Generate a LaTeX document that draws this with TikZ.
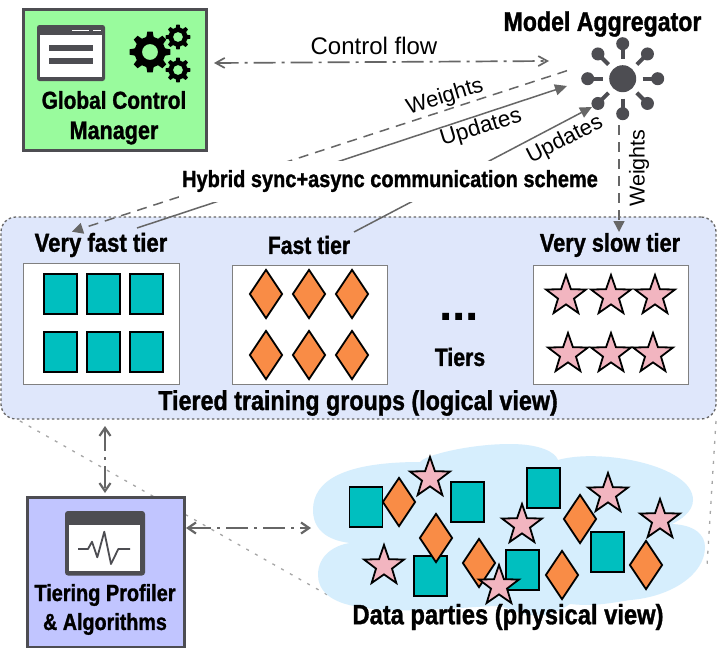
\documentclass[tikz,border=0pt]{standalone}
\usepackage{fontspec}
\setmainfont{Liberation Sans}
\newfontfamily\condfam{Liberation Sans}[FakeStretch=0.85,BoldFeatures={FakeStretch=0.85,FakeBold=1.2}]
\newcommand{\condb}{\condfam\bfseries}
\newcommand{\plainb}{\rmfamily\bfseries}
\usetikzlibrary{arrows.meta,shapes.geometric}
\definecolor{icon}{HTML}{4D4D52}
\definecolor{conn}{HTML}{666666}
\definecolor{greenfill}{HTML}{99FB9D}
\definecolor{bluefill}{HTML}{C1C5FF}
\definecolor{tierfill}{HTML}{DFE7FB}
\definecolor{cloudfill}{HTML}{D6EEFD}
\definecolor{teal}{HTML}{00BFBF}
\definecolor{orangefill}{HTML}{F98C46}
\definecolor{pinkfill}{HTML}{F2B5C0}
\tikzset{
  mgrbox/.style={draw=icon,line width=3pt,inner sep=0pt},
  tierbox/.style={draw=black!50,fill=white,line width=1pt,inner sep=0pt},
  sq/.style={rectangle,draw=black,fill=teal,line width=1.8pt,minimum width=33pt,minimum height=40pt,inner sep=0pt},
  dm/.style={diamond,draw=black,fill=orangefill,line width=1.8pt,minimum width=33pt,minimum height=49pt,inner sep=0pt,aspect=0.67},
  st/.style={star,star points=5,star point ratio=2.5,draw=black,fill=pinkfill,line width=1.8pt,minimum size=42pt,inner sep=0pt},
  lab/.style={font=\fontsize{#1}{26}\selectfont,inner sep=0pt},
  bt/.style={font=\condb\fontsize{#1}{30}\selectfont,inner sep=0pt},
  flow/.style={draw=conn,line width=1.7pt,dash pattern=on 22pt off 6pt on 3pt off 6pt,{Straight Barb[length=9pt,width=10pt]}-{Straight Barb[length=9pt,width=10pt]}},
  flowb/.style={draw=conn,line width=2.2pt,dash pattern=on 22pt off 6pt on 3pt off 6pt,{Straight Barb[length=8pt,width=11pt]}-{Straight Barb[length=8pt,width=11pt]}},
  dashy/.style={draw=conn,line width=1.5pt,dash pattern=on 10pt off 7pt,-{Triangle[length=11pt,width=11pt]}},
  solidy/.style={draw=conn,line width=1.5pt,-{Triangle[length=12pt,width=11pt]}},
  ghost/.style={draw=black!35,line width=1.3pt,dash pattern=on 3pt off 7pt},
}
\newcommand{\gearshape}[6]{% x y Rout Rin hole teeth
  \pgfmathsetmacro{\gs}{360/#6}
  \fill[black,even odd rule,shift={(#1,#2)}]
    ({-0.3*\gs}:#4)
    \foreach \k in {1,...,#6}{
      -- ({(\k-1)*\gs-0.3*\gs}:#4) -- ({(\k-1)*\gs-0.17*\gs}:#3)
      -- ({(\k-1)*\gs+0.17*\gs}:#3) -- ({(\k-1)*\gs+0.3*\gs}:#4)
    } -- cycle
    (0,0) circle (#5);
}
\begin{document}
\begin{tikzpicture}[x=1pt,y=-1pt]
\useasboundingbox (0,0) rectangle (723,648);
\fill[white] (0,0) rectangle (723,648);
% ghost projection lines
\coordinate (gLA) at (20,421); \coordinate (gLB) at (333,598);
\coordinate (gRA) at (716,421); \coordinate (gRB) at (707,566);
\draw[ghost] (gLA) -- (gLB);
\draw[ghost] (gRA) -- (gRB);
% cloud
\fill[cloudfill] (313,510)
  .. controls (313,480) and (345,462) .. (420,462)
  .. controls (425,455) and (470,444) .. (510,444)
  .. controls (540,444) and (555,452) .. (558,460)
  .. controls (600,448) and (693,465) .. (693,500)
  .. controls (693,512) and (680,520) .. (672,524)
  .. controls (695,525) and (705,535) .. (705,547)
  .. controls (705,575) and (670,597) .. (630,600)
  .. controls (600,605) and (590,606) .. (570,604)
  .. controls (540,625) and (520,612) .. (500,606)
  .. controls (470,606) and (400,615) .. (360,607)
  .. controls (330,603) and (318,590) .. (318,575)
  .. controls (318,555) and (335,545) .. (350,543)
  .. controls (325,540) and (313,528) .. (313,510) -- cycle;
% tier panel
\node[draw=black!60,fill=tierfill,line width=1.3pt,dash pattern=on 2.5pt off 2.5pt,rounded corners=15pt,minimum width=715pt,minimum height=202pt,inner sep=0pt] (panel) at (358.5,318) {};
\node[tierbox,minimum width=156pt,minimum height=121pt] (vfbox) at (101,323.5) {};
\node[tierbox,minimum width=155pt,minimum height=119pt] (fbox) at (309.5,324.5) {};
\node[tierbox,minimum width=155pt,minimum height=119pt] (vsbox) at (610.5,324.5) {};
\foreach \c/\x in {a/60.5,b/103.5,c/146.5}{
  \node[sq] (vf\c1) at (\x,294) {};
  \node[sq] (vf\c2) at (\x,352) {};
}
\foreach \c/\x in {a/266,b/309,c/352}{
  \node[dm] (f\c1) at (\x,294) {};
  \node[dm] (f\c2) at (\x,355) {};
}
\foreach \c/\x/\xx in {a/566/568,b/611/611,c/655/653}{
  \node[st] (vs\c1) at (\x,296) {};
  \node[st] (vs\c2) at (\xx,354) {};
}
\node[bt=26] (vft) at (101,245) {Very fast tier};
\node[bt=24.9] (ft) at (309,245) {Fast tier};
\node[bt=25.6] (vst) at (610,245) {Very slow tier};
\node[bt=27.4] (tgl) at (358,403) {Tiered training groups (logical view)};
\node[font=\plainb\fontsize{48}{48}\selectfont,inner sep=0pt,anchor=base] (dots) at (459,320) {...};
\node[bt=25] (tiers) at (460,357) {Tiers};
% global control manager
\node[mgrbox,fill=greenfill,minimum width=183pt,minimum height=141pt] (gcm) at (114.5,79.5) {};
\fill[icon,rounded corners=2.5pt] (37,25) rectangle (105,81);
\fill[white] (40,35) rectangle (102,77);
\fill[icon] (49,45) rectangle (93,51);
\fill[icon] (49,58) rectangle (93,63.5);
\fill[white] (72,29.5) rectangle (89,31);
\fill[white] (93,29.5) rectangle (101,31);
\gearshape{150}{52}{20.5}{15.5}{8}{8}
\gearshape{178}{37}{12.5}{9.5}{5}{8}
\gearshape{178}{70}{12.5}{9.5}{5}{8}
\node[bt=24.5] (gcmA) at (114,100) {Global Control};
\node[bt=25.4] (gcmB) at (114,133) {Manager};
% aggregator
\node[bt=27.2] (agg) at (602.5,24) {Model Aggregator};
\node[circle,fill=icon,minimum size=27pt,inner sep=0pt] (hub) at (622.7,78.7) {};
\foreach \a in {0,45,...,315}{
  \draw[icon,line width=4pt] (hub.center) ++(\a:20) -- ++(\a:15);
  \fill[icon] (hub.center) ++(\a:35) circle (6.5);
}
% profiler
\node[mgrbox,fill=bluefill,minimum width=157pt,minimum height=150pt] (prof) at (105.5,572) {};
\fill[icon,rounded corners=3pt] (65,511) rectangle (145,575.5);
\fill[white] (69,525) rectangle (140,571);
\draw[icon,line width=1.8pt,line join=round] (78,549) -- (88,549) -- (92,541.7) -- (97.3,557.3) -- (104.3,531.7) -- (111,564) -- (118.3,549) -- (130,549);
\node[bt=23.4] (profA) at (105,595) {Tiering Profiler};
\node[bt=23.2] (profB) at (105,624) {\& Algorithms};
% data parties
\node[sq] (p1) at (366,507) {};
\node[sq] (p2) at (467.5,502) {};
\node[sq] (p3) at (543.5,488) {};
\node[sq] (p4) at (607.5,552) {};
\node[sq] (p5) at (522.5,570) {};
\node[sq] (p6) at (430.5,576) {};
\node[dm] (d1) at (399,502) {};
\node[dm] (d2) at (436,538) {};
\node[dm] (d3) at (479,563) {};
\node[dm] (d4) at (580,519) {};
\node[dm] (d5) at (562,575) {};
\node[dm] (d6) at (646,565) {};
\node[st] (s1) at (430,478) {};
\node[st] (s2) at (522,525) {};
\node[st] (s3) at (608,494) {};
\node[st] (s4) at (660,520) {};
\node[st] (s5) at (384,566) {};
\node[st] (s6) at (499,586) {};
\node[bt=27.9] (dpv) at (508,617) {Data parties (physical view)};
% connectors
\coordinate (ctlA) at (214,63); \coordinate (ctlB) at (549,61);
\draw[flow] (ctlA) -- (ctlB);
\node[lab=24] (ctl) at (374,46) {Control flow};
\coordinate (wA) at (567,70.7); \coordinate (wB) at (72,231.7);
\draw[dashy] (wA) -- (wB);
\coordinate (uA) at (137,228); \coordinate (uB) at (567,86);
\draw[solidy] (uA) -- (uB);
\coordinate (vA) at (354,232); \coordinate (vB) at (592,107);
\draw[solidy] (vA) -- (vB);
\coordinate (xA) at (619,125); \coordinate (xB) at (619,232);
\draw[dashy] (xA) -- (xB);
\node[lab=22,rotate=17] (lw1) at (445,97) {Weights};
\node[lab=22.5,rotate=17] (lu1) at (481,128) {Updates};
\node[lab=22,rotate=27] (lu2) at (565,140) {Updates};
\node[lab=21.5,rotate=90] (lw2) at (639,168) {Weights};
\node[bt=23.5,fill=white,minimum height=41pt,inner xsep=3pt] (hyb) at (390,181) {Hybrid sync+async communication scheme};
\coordinate (yA) at (105,426); \coordinate (yB) at (105,493);
\draw[flowb] (yA) -- (yB);
\coordinate (zA) at (186,528); \coordinate (zB) at (311,528);
\draw[flowb] (zA) -- (zB);
\end{tikzpicture}
\end{document}
